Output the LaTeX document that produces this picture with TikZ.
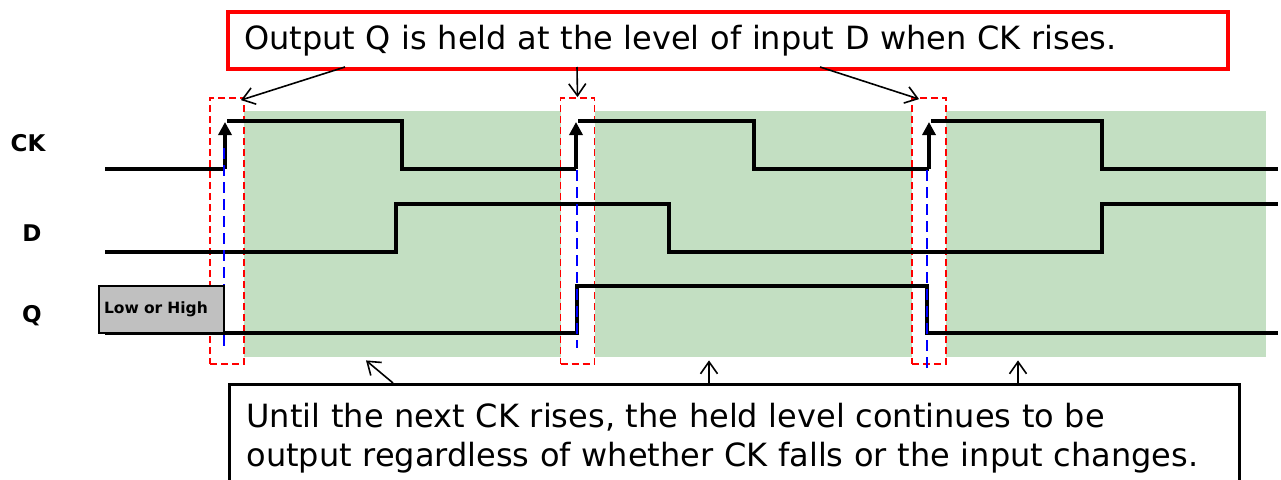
\documentclass[tikz,border=0pt]{standalone}
\usepackage{fontspec}
\setmainfont{DejaVu Sans}
\usetikzlibrary{arrows.meta,calc}
\definecolor{bandgreen}{RGB}{195,223,194}
\definecolor{boxgray}{RGB}{192,192,192}
\begin{document}
\begin{tikzpicture}[x=1pt,y=-1pt,
  wave/.style={line width=4pt,line join=miter},
  rise/.style={line width=4pt,-{Triangle[length=13pt,width=13pt]}},
  clk/.style={draw=red,dash pattern=on 7pt off 4pt,line width=1.8pt,fill=white,minimum width=34pt,minimum height=266pt,inner sep=0pt},
  guide/.style={draw=blue,line width=2pt,dash pattern=on 11pt off 6pt},
  callout/.style={line width=1.6pt,-{Straight Barb[length=12pt,width=17pt,line width=1.6pt]}},
  sig/.style={font=\bfseries\fontsize{23}{27}\selectfont},
  msg/.style={font=\fontsize{32}{39}\selectfont,align=left}]
\useasboundingbox (0,0) rectangle (1281,479);
\fill[white] (0,0) rectangle (1281,479);
% green band
\node[fill=bandgreen,minimum width=1022pt,minimum height=246pt,inner sep=0pt,anchor=north west] (band) at (244,111) {};
% clock-edge windows
\node[clk] (b1) at (227,231) {};
\node[clk] (b2) at (577.5,231) {};
\node[clk] (b3) at (929,231) {};
% CK
\draw[wave] (105,169) -- (225,169);
\draw[rise] (225,169) -- (225,122);
\draw[wave] (227,121) -- (402,121) -- (402,169) -- (576,169);
\draw[rise] (576,169) -- (576,122);
\draw[wave] (578,121) -- (754,121) -- (754,169) -- (929,169);
\draw[rise] (929,169) -- (929,122);
\draw[wave] (931,121) -- (1102,121) -- (1102,169) -- (1278,169);
% D
\draw[wave] (105,252) -- (396,252) -- (396,204) -- (669,204) -- (669,252) -- (1102,252) -- (1102,204) -- (1278,204);
% Q
\draw[wave] (105,333) -- (577,333) -- (577,286) -- (927,286) -- (927,333) -- (1278,333);
% guides
\draw[guide] (224,148) -- (224,348);
\draw[guide] (577,170) -- (577,348);
\draw[guide] (927,170) -- (927,368);
% initial state box
\node[draw,line width=2pt,fill=boxgray,text width=115pt,align=left,inner xsep=5pt,minimum height=47pt,inner ysep=0pt,font=\bfseries\fontsize{15.5}{18}\selectfont,anchor=north west] (init) at (98,285) {Low or High};
% signal labels
\node[sig] (lck) at (28,143) {CK};
\node[sig] (ld) at (32,233) {D};
\node[sig] (lq) at (32,316) {Q};
% top message
\node[draw=red,line width=4pt,msg,anchor=north west,minimum height=57pt,text width=968pt,inner xsep=16pt,inner ysep=0pt] (top) at (226,10) {Output Q is held at the level of input D when CK rises.};
% bottom message
\node[draw,line width=3pt,msg,anchor=north west,text width=976pt,inner xsep=17pt,inner ysep=19pt] (bot) at (228,383) {\mbox{Until the next CK rises, the held level continues to be}\\\mbox{output regardless of whether CK falls or the input changes.}};
% callouts
\coordinate (s1) at (345,67);
\coordinate (s2) at (577,67);
\coordinate (s3) at (820,67);
\draw[callout] (s1) -- ($(b1.north east)+(-4,3)$);
\draw[callout] (s2) -- (b2.north);
\draw[callout] (s3) -- ($(b3.north west)+(8,2)$);
\coordinate (u1) at (393,383);
\coordinate (u2) at (709,383);
\coordinate (u3) at (1018,383);
\draw[callout] (u1) -- ($(band.south west)+(122,3)$);
\draw[callout] (u2) -- ($(band.south west)+(465,3)$);
\draw[callout] (u3) -- ($(band.south west)+(774,3)$);
\end{tikzpicture}
\end{document}
